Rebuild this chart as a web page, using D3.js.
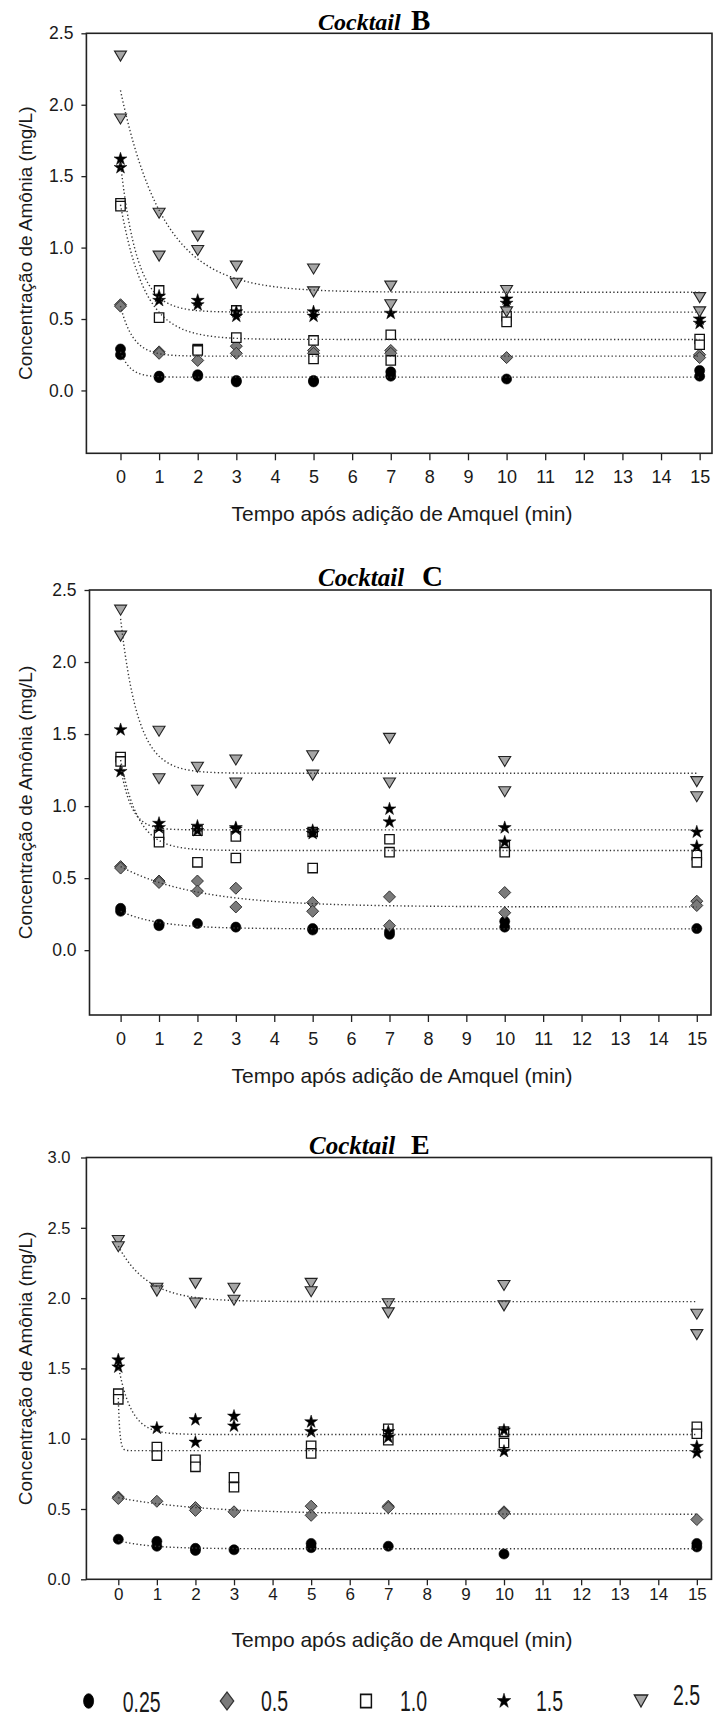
<!DOCTYPE html>
<html>
<head>
<meta charset="utf-8">
<script src="https://cdn.jsdelivr.net/npm/d3@7"></script>
<style>
  body { margin: 0; background: #fff; }
  svg { display: block; }
  .tick text { font-family: "Liberation Sans", Arial, sans-serif; fill: #1a1a1a; }
  .tick line { stroke: #222; stroke-width: 1.3; }
</style>
</head>
<body>
<svg id="fig" width="713" height="1717"></svg>
<script>
// Sampling times (min) and Amquel doses
const times = [0, 1, 2, 3, 5, 7, 10, 15];
const doses = ["0.25", "0.5", "1.0", "1.5", "2.5"];
const xTickValues = [0, 1, 2, 3, 4, 5, 6, 7, 8, 9, 10, 11, 12, 13, 14, 15];
const yTicksBC = [0.0, 0.5, 1.0, 1.5, 2.0, 2.5];
const yTicksE = [0.0, 0.5, 1.0, 1.5, 2.0, 2.5, 3.0];

// Cocktail B: replicate readings (mg/L) per time point, one array per dose
const bDose025 = [[0.29, 0.25], [0.10, 0.09], [0.11, 0.10], [0.07, 0.06], [0.07, 0.06], [0.13, 0.10], [0.08], [0.14, 0.10]];
const bDose05  = [[0.60, 0.59], [0.27, 0.26], [0.21], [0.31, 0.26], [0.28, 0.26], [0.28, 0.26], [0.23], [0.25, 0.23]];
const bDose10  = [[1.31, 1.29], [0.70, 0.51], [0.29, 0.28], [0.56, 0.37], [0.35, 0.22], [0.39, 0.21], [0.52, 0.48], [0.36, 0.32]];
const bDose15  = [[1.62, 1.56], [0.66, 0.63], [0.63, 0.60], [0.55, 0.52], [0.55, 0.52], [0.54], [0.64, 0.61], [0.50, 0.47]];
const bDose25  = [[2.34, 1.90], [1.24, 0.94], [1.08, 0.98], [0.87, 0.75], [0.85, 0.69], [0.73, 0.60], [0.70, 0.55], [0.65, 0.55]];

// Cocktail C
const cDose025 = [[0.29, 0.27], [0.18, 0.17], [0.185], [0.16], [0.15, 0.14], [0.13, 0.11], [0.20, 0.16], [0.15]];
const cDose05  = [[0.58, 0.57], [0.48, 0.47], [0.48, 0.41], [0.43, 0.30], [0.33, 0.27], [0.37, 0.17], [0.40, 0.26], [0.34, 0.31]];
const cDose10  = [[1.34, 1.31], [0.80, 0.75], [0.83, 0.61], [0.79, 0.64], [0.82, 0.57], [0.77, 0.68], [0.73, 0.68], [0.66, 0.61]];
const cDose15  = [[1.53, 1.24], [0.88, 0.85], [0.86, 0.83], [0.85, 0.84], [0.83, 0.81], [0.98, 0.89], [0.85, 0.75], [0.82, 0.72]];
const cDose25  = [[2.36, 2.18], [1.52, 1.19], [1.27, 1.11], [1.32, 1.16], [1.35, 1.215], [1.47, 1.16], [1.31, 1.10], [1.17, 1.065]];

// Cocktail E
const eDose025 = [[0.285], [0.27, 0.235], [0.22, 0.205], [0.21], [0.255, 0.225], [0.235], [0.18], [0.255, 0.23]];
const eDose05  = [[0.585, 0.575], [0.555], [0.51, 0.49], [0.48], [0.52, 0.455], [0.52, 0.51], [0.48, 0.47], [0.425]];
const eDose10  = [[1.32, 1.28], [0.94, 0.88], [0.85, 0.80], [0.725, 0.655], [0.95, 0.895], [1.07, 0.99], [1.05, 0.97], [1.085, 1.035]];
const eDose15  = [[1.56, 1.51], [1.075], [1.135, 0.975], [1.16, 1.09], [1.12, 1.05], [1.05, 1.01], [1.06, 0.91], [0.945, 0.90]];
const eDose25  = [[2.41, 2.365], [2.07, 2.05], [2.105, 1.965], [2.07, 1.985], [2.105, 2.045], [1.96, 1.895], [2.09, 1.945], [1.885, 1.74]];

// Exponential decay fits, y = plateau + (start - plateau) * exp(-rate * t), per dose
const bPlateau = [0.093, 0.24, 0.357, 0.548, 0.687];
const bStart   = [0.27, 0.59, 1.30, 1.59, 2.10];
const bRate    = [4.0, 3.0, 1.6, 2.3, 0.9];
const cPlateau = [0.148, 0.30, 0.692, 0.835, 1.228];
const cStart   = [0.27, 0.58, 1.32, 1.27, 2.30];
const cRate    = [1.0, 0.5, 2.2, 3.5, 2.2];
const ePlateau = [0.217, 0.463, 0.915, 1.03, 1.975];
const eStart   = [0.275, 0.58, 1.29, 1.52, 2.37];
const eRate    = [1.2, 0.45, 25, 3.0, 1.3];

// ---------- marker styles ----------
const markerStyles = [
  { path: d3.symbol(d3.symbolCircle, 80)(), fill: "#000", stroke: "#000", sw: 0.6 },
  { path: "M0,-6L6,0L0,6L-6,0Z", fill: "#7b7b7b", stroke: "#333", sw: 1 },
  { path: d3.symbol(d3.symbolSquare, 88)(), fill: "#fff", stroke: "#111", sw: 1.3 },
  { path: d3.symbol(d3.symbolStar, 52)(), fill: "#000", stroke: "#000", sw: 0.5 },
  { path: "M-6,-5L6,-5L0,5Z", fill: "#a6a6a6", stroke: "#222", sw: 1.1 }
];

// ---------- panel layout ----------
const panels = [
  { letter: "B", series: [bDose025, bDose05, bDose10, bDose15, bDose25],
    plateau: bPlateau, start: bStart, rate: bRate, yTicks: yTicksBC,
    left: 86.4, right: 712, top: 33.3, bottom: 453.3,
    xDom: [-0.883, 15.32], yDom: [-0.44, 2.5],
    titleX: 318, letterX: 411, titleY: 30, titleSize: 24, letterSize: 29,
    xTickSize: 7, xPad: 10, xFont: 18, yTickSize: 5, yPad: 8, yFont: 17.5,
    xTitleY: 520.5 },
  { letter: "C", series: [cDose025, cDose05, cDose10, cDose15, cDose25],
    plateau: cPlateau, start: cStart, rate: cRate, yTicks: yTicksBC,
    left: 89.5, right: 711, top: 590, bottom: 1015,
    xDom: [-0.81, 15.37], yDom: [-0.45, 2.5],
    titleX: 318, letterX: 422, titleY: 586, titleSize: 25, letterSize: 29,
    xTickSize: 7, xPad: 10.5, xFont: 18, yTickSize: 5, yPad: 8, yFont: 17.5,
    xTitleY: 1082.5 },
  { letter: "E", series: [eDose025, eDose05, eDose10, eDose15, eDose25],
    plateau: ePlateau, start: eStart, rate: eRate, yTicks: yTicksE,
    left: 86.4, right: 711.5, top: 1157.5, bottom: 1579.3,
    xDom: [-0.827, 15.38], yDom: [0, 3],
    titleX: 309, letterX: 411, titleY: 1154, titleSize: 25, letterSize: 28,
    xTickSize: 6, xPad: 2.5, xFont: 17, yTickSize: 5.4, yPad: 10.5, yFont: 16.5,
    xTitleY: 1646.5 }
];

const svg = d3.select("#fig");
const sansFont = '"Liberation Sans", Arial, sans-serif';
const serifFont = '"Liberation Serif", "Times New Roman", serif';

// time grid for the fitted curves (dense near t = 0 for the fast decays)
const fitT = d3.range(0, 1, 0.005).concat(d3.range(1, 15.0001, 0.05));

panels.forEach(p => {
  const x = d3.scaleLinear().domain(p.xDom).range([p.left, p.right]);
  const y = d3.scaleLinear().domain(p.yDom).range([p.bottom, p.top]);
  const g = svg.append("g");

  // x axis ticks
  const xAxis = g.append("g")
    .attr("transform", `translate(0,${p.bottom})`)
    .call(d3.axisBottom(x).tickValues(xTickValues).tickFormat(d3.format("d"))
      .tickSize(p.xTickSize).tickSizeOuter(0).tickPadding(p.xPad));
  xAxis.select(".domain").remove();
  xAxis.selectAll("text").style("font-size", p.xFont + "px");

  // y axis ticks
  const yAxis = g.append("g")
    .attr("transform", `translate(${p.left},0)`)
    .call(d3.axisLeft(y).tickValues(p.yTicks).tickFormat(d3.format(".1f"))
      .tickSize(p.yTickSize).tickSizeOuter(0).tickPadding(p.yPad));
  yAxis.select(".domain").remove();
  yAxis.selectAll("text").style("font-size", p.yFont + "px");

  // frame
  g.append("rect")
    .attr("x", p.left).attr("y", p.top)
    .attr("width", p.right - p.left).attr("height", p.bottom - p.top)
    .attr("fill", "none").attr("stroke", "#222").attr("stroke-width", 1.6);

  // markers
  p.series.forEach((reps, si) => {
    const st = markerStyles[si];
    const pts = [];
    reps.forEach((vals, ti) => vals.forEach(v => pts.push([times[ti], v])));
    g.append("g").selectAll("path").data(pts).join("path")
      .attr("d", st.path)
      .attr("transform", d => `translate(${x(d[0])},${y(d[1])})`)
      .attr("fill", st.fill).attr("stroke", st.stroke).attr("stroke-width", st.sw);
  });

  // fitted decay curves (dotted)
  const line = d3.line().x(d => x(d[0])).y(d => y(d[1]));
  p.plateau.forEach((c, si) => {
    const a = p.start[si] - c, k = p.rate[si];
    const curve = fitT.map(t => [t, c + a * Math.exp(-k * t)]);
    g.append("path").attr("d", line(curve))
      .attr("fill", "none").attr("stroke", "#333")
      .attr("stroke-width", 1.4).attr("stroke-dasharray", "1.3 2.4");
  });

  // title
  g.append("text").attr("x", p.titleX).attr("y", p.titleY)
    .attr("font-family", serifFont).attr("font-style", "italic").attr("font-weight", "bold")
    .attr("font-size", p.titleSize).attr("fill", "#000").text("Cocktail");
  g.append("text").attr("x", p.letterX).attr("y", p.titleY)
    .attr("font-family", serifFont).attr("font-weight", "bold")
    .attr("font-size", p.letterSize).attr("fill", "#000").text(p.letter);

  // axis titles
  g.append("text")
    .attr("transform", `translate(32,${(p.top + p.bottom) / 2}) rotate(-90)`)
    .attr("text-anchor", "middle").attr("font-family", sansFont)
    .attr("font-size", 19).attr("fill", "#1a1a1a")
    .text("Concentração de Amônia (mg/L)");
  g.append("text")
    .attr("x", 402).attr("y", p.xTitleY)
    .attr("text-anchor", "middle").attr("font-family", sansFont)
    .attr("font-size", 21).attr("fill", "#1a1a1a")
    .text("Tempo após adição de Amquel (min)");
});

// legend (dose in mg/L)
const legendSymX = [88.6, 227, 366, 504, 641];
const legendTxtX = [122.7, 261, 400, 536, 673];
const legendTxtY = [1712, 1711, 1711, 1711, 1705];
const legendSymScale = [[1.0, 1.45], [1.12, 1.5], [1.15, 1.4], [1.05, 1.15], [1.12, 1.2]];
const leg = svg.append("g");
doses.forEach((d, i) => {
  const st = markerStyles[i];
  leg.append("path").attr("d", st.path)
    .attr("transform", `translate(${legendSymX[i]},1701) scale(${legendSymScale[i][0]},${legendSymScale[i][1]})`)
    .attr("fill", st.fill).attr("stroke", st.stroke).attr("stroke-width", st.sw);
  leg.append("text")
    .attr("transform", `translate(${legendTxtX[i]},${legendTxtY[i]}) scale(0.65,1)`)
    .attr("font-family", sansFont).attr("font-size", 30).attr("fill", "#1a1a1a")
    .text(d);
});
</script>
</body>
</html>
